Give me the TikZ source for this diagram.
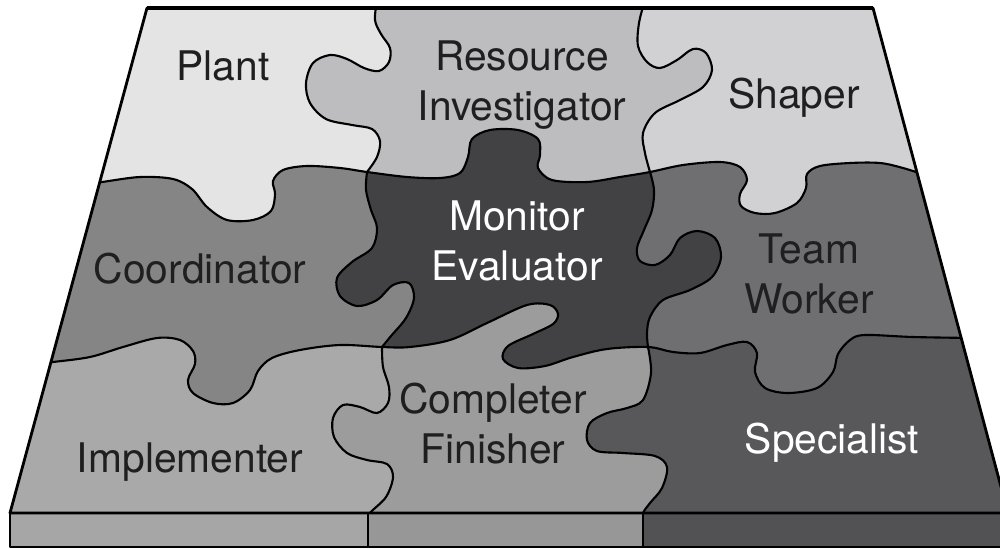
\documentclass[tikz,border=0pt]{standalone}
\usepackage{fontspec}
\setmainfont{TeX Gyre Heros}
\usepackage{tikz}

\definecolor{plantgray}{HTML}{E4E4E4}
\definecolor{resgray}{HTML}{BDBDBF}
\definecolor{shapergray}{HTML}{D1D1D3}
\definecolor{coordgray}{HTML}{858585}
\definecolor{monitorgray}{HTML}{424244}
\definecolor{teamgray}{HTML}{6F6F71}
\definecolor{implgray}{HTML}{A9A9A9}
\definecolor{completegray}{HTML}{9C9C9C}
\definecolor{specgray}{HTML}{58585A}
\definecolor{slableft}{HTML}{A6A6A6}
\definecolor{slabmid}{HTML}{979797}
\definecolor{slabright}{HTML}{525254}

\tikzstyle{seam}     = [line width=0.6pt, line join=round, line cap=round]
\tikzstyle{rim}      = [line width=0.8pt, line join=round]
\tikzstyle{role}     = [font=\fontsize{11.6}{14.2}\selectfont, align=center, anchor=base, text=black!88]
\tikzstyle{roledark} = [role, text=white]

% seams between the rows, left to right
\newcommand{\seamtop}{-- plot[smooth, tension=0.55] coordinates {(92,183) (102,182) (140,177) (173,179) (192,189) (207,207) (227,220) (253,220) (271,211) (275,194) (273,181) (283,170) (307,166) (340,168) (367,172) (407,177) (440,178) (460,173) (468,157) (472,139) (490,130) (518,130) (538,139) (540,155) (538,168) (552,180) (587,182) (620,177) (650,172) (683,165) (720,162) (740,167) (747,180) (740,194) (741,206) (755,213) (775,213) (797,203) (806,188) (807,174) (820,166) (850,163) (880,163) (903,168) (925,175)}}
\newcommand{\seambottom}{-- plot[smooth, tension=0.55] coordinates {(44,363) (53,362) (90,357) (123,347) (157,338) (180,340) (193,351) (195,364) (188,380) (193,393) (213,403) (233,403) (250,390) (258,371) (272,358) (300,350) (340,345) (382,347) (410,347) (450,340) (487,323) (527,305) (550,305) (558,314) (553,324) (533,334) (508,346) (503,359) (518,368) (545,366) (573,357) (607,349) (648,347) (673,352) (700,353) (727,345) (747,342) (757,353) (755,372) (765,388) (788,393) (817,388) (833,372) (838,354) (850,340) (865,335) (913,337) (972,338)}}
% seams between the columns, top to bottom
\newcommand{\seamplant}{-- plot[smooth, tension=0.55] coordinates {(377,0) (375,20) (381,34) (390,48) (389,62) (379,71) (364,68) (347,59) (330,55) (313,63) (306,83) (310,103) (326,119) (352,125) (372,129) (380,141) (377,157) (367,172)}}
\newcommand{\seamshaper}{-- plot[smooth, tension=0.55] coordinates {(645,0) (639,23) (638,46) (647,62) (660,68) (677,60) (693,49) (706,53) (712,70) (703,87) (680,100) (655,113) (643,133) (645,153) (650,172)}}
\newcommand{\seamcoord}{-- plot[smooth, tension=0.55] coordinates {(367,172) (366,190) (371,210) (377,228) (372,248) (352,262) (337,278) (340,296) (357,306) (377,300) (393,285) (409,283) (414,298) (406,318) (391,336) (382,347)}}
\newcommand{\seamteam}{-- plot[smooth, tension=0.55] coordinates {(650,172) (654,190) (652,210) (644,230) (637,248) (640,261) (655,265) (670,255) (680,238) (697,231) (715,238) (721,257) (712,277) (690,290) (663,300) (650,317) (647,333) (648,347)}}
\newcommand{\seamimpl}{-- plot[smooth, tension=0.55] coordinates {(382,347) (383,367) (389,387) (388,403) (377,413) (360,407) (343,405) (333,418) (334,437) (347,453) (367,460) (387,464) (393,477) (386,497) (370,513) (367,522)}}
\newcommand{\seamspec}{-- plot[smooth, tension=0.55] coordinates {(648,347) (651,373) (643,400) (627,408) (607,413) (590,423) (587,440) (597,451) (623,453) (655,456) (667,467) (662,488) (650,503) (643,513) (642,522)}}

\begin{document}
\begin{tikzpicture}[x=0.01cm, y=-0.01cm]
    \useasboundingbox (0,0) rectangle (1000,548);

    \begin{scope}
        \clip (147,8) -- (873,8) -- (1008,513) -- (10,513) -- cycle;

        % bottom row
        \fill[implgray] (0,0) rectangle (1100,600);
        \fill[completegray] (382,-100) \seamimpl -- (367,600) -- (1100,600) -- (1100,-100) -- cycle;
        \fill[specgray] (648,-100) \seamspec -- (642,600) -- (1100,600) -- (1100,-100) -- cycle;
        \draw[seam] (382,347) \seamimpl;
        \draw[seam] (648,347) \seamspec;

        % middle row
        \begin{scope}
            \clip (-50,366) \seambottom -- (1100,338) -- (1100,-100) -- (-50,-100) -- cycle;
            \fill[coordgray] (-50,-100) rectangle (1100,600);
            \fill[monitorgray] (367,-100) \seamcoord -- (382,600) -- (1100,600) -- (1100,-100) -- cycle;
            \fill[teamgray] (650,-100) \seamteam -- (648,600) -- (1100,600) -- (1100,-100) -- cycle;
            \draw[seam] (367,172) \seamcoord;
            \draw[seam] (650,172) \seamteam;
        \end{scope}

        % top row
        \begin{scope}
            \clip (-50,186) \seamtop -- (1100,176) -- (1100,-100) -- (-50,-100) -- cycle;
            \fill[plantgray] (-50,-100) rectangle (1100,600);
            \fill[resgray] (377,-100) \seamplant -- (367,400) -- (1100,400) -- (1100,-100) -- cycle;
            \fill[shapergray] (645,-100) \seamshaper -- (650,400) -- (1100,400) -- (1100,-100) -- cycle;
            \draw[seam] (377,0) \seamplant;
            \draw[seam] (645,0) \seamshaper;
        \end{scope}

        \draw[seam] (92,183) \seamtop;
        \draw[seam] (44,363) \seambottom;
    \end{scope}

    % base slab
    \fill[slableft]  (10,513)  rectangle (368,547);
    \fill[slabmid]   (368,513) rectangle (643,547);
    \fill[slabright] (643,513) rectangle (1012,547);
    \draw[rim] (10,513) rectangle (1012,547);
    \draw[rim] (368,513) -- (368,547) (643,513) -- (643,547);
    \draw[rim] (147,8) -- (873,8) -- (1008,513) -- (10,513) -- cycle;
    \draw[line width=1.1pt] (147,8) -- (873,8);

    % base anchor sits on the last line
    \node[role]     (plant)    at (223,80)  {Plant};
    \node[role]     (resource) at (522,120) {Resource\\Investigator};
    \node[role]     (shaper)   at (794,108) {Shaper};
    \node[role]     (coord)    at (200,283) {Coordinator};
    \node[roledark] (monitor)  at (517,280) {Monitor\\Evaluator};
    \node[role]     (team)     at (809,313) {Team\\Worker};
    \node[role]     (impl)     at (190,472) {Implementer};
    \node[role]     (complete) at (493,463) {Completer\\Finisher};
    \node[roledark] (spec)     at (832,453) {Specialist};
\end{tikzpicture}
\end{document}
